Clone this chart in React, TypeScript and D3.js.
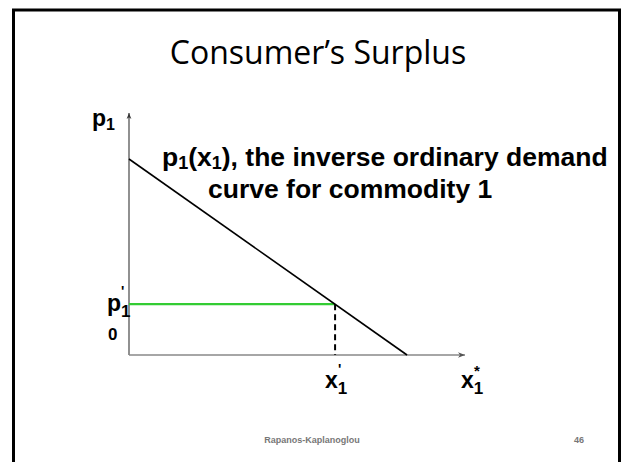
import React from "react";
import * as d3 from "d3";

const W = 622;
const H = 462;

const xDomain = [0, 12];
const yDomain = [0, 10];
const demandPoints: [number, number][] = [
  [0, 8.1],
  [9.93, 0],
];
const pPrime = 2.1;
const xPrime = 7.36;
const titleText = "Consumer’s Surplus";
const footerText = "Rapanos-Kaplanoglou";
const pageNum = "46";

export default function App() {
  const x = d3.scaleLinear().domain(xDomain).range([129, 465]);
  const y = d3.scaleLinear().domain(yDomain).range([355, 113]);
  const line = d3
    .line<[number, number]>()
    .x((d) => x(d[0]))
    .y((d) => y(d[1]));
  const bold = { fontFamily: "Liberation Sans, Arial, sans-serif", fontWeight: 700 } as const;
  return (
    <svg
      width={W}
      height={H}
      style={{ position: "absolute", left: 0, top: 0, background: "#fff" }}
    >
      <defs>
        <marker id="arr" viewBox="0 0 10 10" refX="10" refY="5" markerWidth="9" markerHeight="7" orient="auto" markerUnits="userSpaceOnUse">
          <path d="M0,1 L10,5 L0,9 L3,5 Z" fill="#555" />
        </marker>
        <marker id="arrY" viewBox="0 0 10 10" refX="10" refY="5" markerWidth="9" markerHeight="6" orient="auto" markerUnits="userSpaceOnUse">
          <path d="M0,1 L10,5 L0,9 L3,5 Z" fill="#333" />
        </marker>
      </defs>
      <rect x={0} y={0} width={W} height={H} fill="#fff" />
      {/* frame */}
      <path d={`M13.5,${H + 5} L13.5,10 L619.5,10 L619.5,${H + 5}`} fill="none" stroke="#000" strokeWidth={3} />
      <text x={318} y={64} textAnchor="middle" fontFamily="Open Sans, sans-serif" fontSize={32} fill="#000">
        {titleText}
      </text>
      {/* axes */}
      <line x1={x(0)} y1={y(0)} x2={x(0)} y2={y(10)} stroke="#555" strokeWidth={1.3} markerEnd="url(#arrY)" />
      <line x1={x(0)} y1={y(0)} x2={x(12)} y2={y(0)} stroke="#888" strokeWidth={1.6} markerEnd="url(#arr)" />
      {/* green price line */}
      <line x1={x(0)} y1={y(pPrime)} x2={x(xPrime)} y2={y(pPrime)} stroke="#33cc33" strokeWidth={2.2} />
      {/* dashed */}
      <line x1={x(xPrime)} y1={y(pPrime)} x2={x(xPrime)} y2={y(0)} stroke="#000" strokeWidth={2} strokeDasharray="6,4" />
      {/* demand */}
      <path d={line(demandPoints) || ""} fill="none" stroke="#000" strokeWidth={1.6} />
      {/* labels */}
      <text x={92} y={126} fontSize={23} {...bold}>
        p<tspan fontSize={16} dy={4}>1</tspan>
      </text>
      <text x={162} y={166} fontSize={26.5} {...bold}>
        p<tspan fontSize={18} dy={3}>1</tspan>
        <tspan dy={-3}>(x</tspan>
        <tspan fontSize={18} dy={3}>1</tspan>
        <tspan dy={-3}>), the inverse ordinary demand</tspan>
      </text>
      <text x={208} y={198} fontSize={26.5} {...bold}>
        curve for commodity 1
      </text>
      <text x={107} y={311} fontSize={23} {...bold}>
        p<tspan fontSize={17} dy={6}>1</tspan>
      </text>
      <text x={121} y={296} fontSize={14} {...bold}>'</text>
      <text x={108} y={340} fontSize={17} {...bold}>0</text>
      <text x={325} y={388} fontSize={23} {...bold}>
        x<tspan fontSize={17} dy={6}>1</tspan>
      </text>
      <text x={338} y={374} fontSize={14} {...bold}>'</text>
      <text x={461} y={388} fontSize={23} {...bold}>
        x<tspan fontSize={17} dy={6}>1</tspan>
      </text>
      <text x={474} y={376} fontSize={15} {...bold}>*</text>
      <text x={312} y={443} textAnchor="middle" fontSize={9} fill="#777" {...bold}>
        {footerText}
      </text>
      <text x={579} y={443} textAnchor="middle" fontSize={9} fill="#777" {...bold}>
        {pageNum}
      </text>
    </svg>
  );
}
